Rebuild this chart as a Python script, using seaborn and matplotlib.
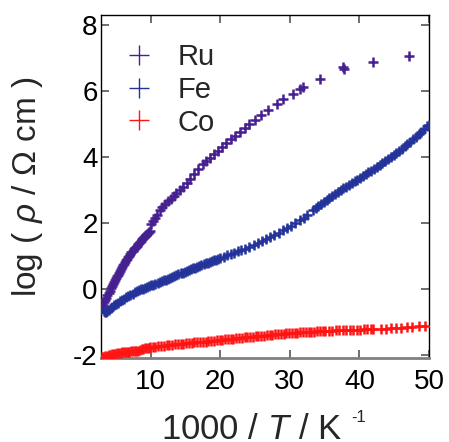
import matplotlib
matplotlib.use("Agg")
import matplotlib.pyplot as plt
from matplotlib.lines import Line2D
import seaborn as sns
import pandas as pd

# ---------------- data ----------------
ru_x = [2.90, 3.05, 3.20, 3.35, 3.50, 3.65, 3.80, 3.95, 4.10, 4.25, 4.40, 4.55, 4.70,
        4.85, 5.00, 5.15, 5.30, 5.45, 5.60, 5.75, 5.90, 6.05, 6.20, 6.35, 6.50, 6.65,
        6.80, 6.95, 7.10, 7.25, 7.40, 7.55, 7.70, 7.85, 8.00, 8.15, 8.30, 8.45, 8.60,
        8.75, 8.90, 9.05, 9.20, 9.35, 9.50, 9.65, 9.80, 9.95,
        10.1, 10.3, 10.6, 10.9, 11.3, 11.7, 12.1, 12.5, 12.9, 13.3, 13.7, 14.2, 14.7,
        15.2, 15.7, 16.2, 16.8, 17.5, 18.0, 18.5, 19.1, 19.7, 20.3, 20.9, 21.5, 22.1,
        22.8, 23.5, 24.2, 25.0, 25.9, 26.9, 28.1, 29.0, 30.5, 31.5, 31.9, 34.3, 37.7,
        37.8, 41.9, 47.1]
ru_y = [-0.60, -0.54, -0.48, -0.41, -0.34, -0.27, -0.20, -0.13, -0.06, 0.01, 0.08, 0.15,
        0.21, 0.26, 0.32, 0.38, 0.43, 0.49, 0.54, 0.60, 0.66, 0.71, 0.76, 0.81, 0.86,
        0.91, 0.95, 1.00, 1.05, 1.10, 1.15, 1.19, 1.23, 1.27, 1.31, 1.35, 1.39, 1.43,
        1.46, 1.50, 1.54, 1.57, 1.60, 1.63, 1.67, 1.70, 1.73, 1.76,
        1.97, 2.04, 2.14, 2.24, 2.38, 2.48, 2.56, 2.65, 2.73, 2.82, 2.90, 3.00, 3.10,
        3.22, 3.33, 3.47, 3.62, 3.79, 3.88, 3.97, 4.08, 4.19, 4.31, 4.42, 4.53, 4.64,
        4.75, 4.87, 4.99, 5.12, 5.26, 5.42, 5.60, 5.75, 5.90, 6.05, 6.11, 6.36, 6.71,
        6.66, 6.86, 7.07]

fe_x = [3.3, 3.45, 3.6, 3.8, 4.0, 4.25, 4.5, 4.75, 5.0, 5.3, 5.6, 5.9, 6.2, 6.5, 6.8,
        7.1, 7.4, 7.7, 8.0, 8.3, 8.6, 8.9, 9.2, 9.5, 9.8, 10.1, 10.4, 10.7, 11.0, 11.3,
        11.6, 11.9, 12.2, 12.5, 12.8, 13.1, 13.4, 13.7, 14.0, 14.3, 14.6, 14.9, 15.2,
        15.5, 15.8, 16.1, 16.4, 16.7, 17.0, 17.3, 17.6, 17.9, 18.2, 18.5, 18.8, 19.1,
        19.4, 19.7, 20.0,
        20.5, 21.0, 21.5, 22.0, 22.5, 23.0, 23.6, 24.2, 24.8, 25.4, 26.0, 26.6, 27.2,
        27.8, 28.4, 29.0, 29.6, 30.2, 30.8, 31.4, 32.0, 32.5,
        33.3, 33.7, 34.1, 34.5, 34.9, 35.3, 35.7, 36.1, 36.5, 36.9, 37.3, 37.7, 38.1,
        38.5, 38.9, 39.3, 39.7, 40.1, 40.5, 40.9, 41.3, 41.7, 42.1, 42.5, 42.9, 43.3,
        43.7, 44.1, 44.5, 44.9, 45.3, 45.7, 46.1, 46.5, 46.9, 47.3, 47.7, 48.1, 48.5,
        48.9, 49.3, 49.7, 50.0]
fe_y = [-0.66, -0.70, -0.70, -0.67, -0.63, -0.58, -0.54, -0.50, -0.46, -0.42, -0.38, -0.34,
        -0.30, -0.26, -0.22, -0.18, -0.15, -0.11, -0.08, -0.05, -0.02, 0.00, 0.03, 0.05,
        0.08, 0.10, 0.12, 0.15, 0.18, 0.21, 0.23, 0.26, 0.28, 0.31, 0.33, 0.36, 0.39,
        0.41, 0.44, 0.47, 0.49, 0.52, 0.54, 0.57, 0.59, 0.62, 0.64, 0.67, 0.70, 0.72,
        0.74, 0.77, 0.79, 0.81, 0.84, 0.86, 0.88, 0.91, 0.93,
        0.97, 1.01, 1.05, 1.09, 1.13, 1.17, 1.22, 1.27, 1.32, 1.38, 1.44, 1.50, 1.56,
        1.63, 1.70, 1.77, 1.84, 1.91, 1.99, 2.07, 2.15, 2.23,
        2.38, 2.44, 2.50, 2.56, 2.62, 2.68, 2.74, 2.80, 2.86, 2.92, 2.98, 3.04, 3.09,
        3.15, 3.20, 3.26, 3.31, 3.36, 3.42, 3.47, 3.53, 3.58, 3.64, 3.70, 3.75, 3.81,
        3.86, 3.92, 3.99, 4.05, 4.11, 4.18, 4.25, 4.32, 4.39, 4.46, 4.53, 4.61, 4.68,
        4.76, 4.84, 4.92, 4.97]

co_x = [2.95, 3.2, 3.45, 3.7, 3.95, 4.2, 4.45, 4.7, 4.95, 5.2, 5.45, 5.7, 5.95, 6.2,
        6.45, 6.7, 6.95, 7.2, 7.45, 7.7, 7.95, 8.2, 8.45, 8.7, 8.95, 9.2, 9.45, 9.7, 9.95,
        10.3, 10.7, 11.1, 11.5, 11.9, 12.3, 12.7, 13.1, 13.5, 13.9, 14.3, 14.7, 15.1,
        15.5, 15.9, 16.3, 16.7, 17.1, 17.5, 17.9, 18.3, 18.7, 19.1, 19.5, 19.9, 20.3,
        20.7, 21.1, 21.5, 21.9, 22.3, 22.7, 23.1, 23.5, 23.9, 24.3, 24.7, 25.1, 25.5,
        25.9, 26.3, 26.7, 27.1, 27.5, 27.9, 28.3, 28.7, 29.1, 29.5, 29.9, 30.3, 30.7,
        31.1, 31.5, 31.9, 32.3, 32.7, 33.1, 33.5, 33.9, 34.3, 34.7, 35.1,
        35.6, 36.1, 36.6, 37.1, 37.6, 38.1, 38.6, 39.1, 39.6, 40.1, 40.6, 41.1, 41.6, 42.0,
        43.1, 43.8, 44.6, 45.3, 46.0, 46.8, 47.6, 48.5, 49.4]
co_y = [-2.07, -2.06, -2.04, -2.03, -2.02, -2.01, -1.99, -1.98, -1.97, -1.96, -1.95,
        -1.94, -1.93, -1.93, -1.92, -1.91, -1.91, -1.90, -1.89, -1.89, -1.88, -1.88,
        -1.87, -1.84, -1.82, -1.81, -1.80, -1.79, -1.78,
        -1.77, -1.76, -1.75, -1.74, -1.73, -1.72, -1.71, -1.70, -1.69, -1.68, -1.67,
        -1.67, -1.66, -1.65, -1.64, -1.63, -1.62, -1.61, -1.60, -1.60, -1.59, -1.58,
        -1.57, -1.56, -1.55, -1.54, -1.53, -1.53, -1.52, -1.51, -1.50, -1.49, -1.48,
        -1.47, -1.47, -1.46, -1.45, -1.44, -1.43, -1.42, -1.42, -1.41, -1.40, -1.39,
        -1.38, -1.38, -1.37, -1.36, -1.35, -1.34, -1.34, -1.33, -1.33, -1.32, -1.32,
        -1.31, -1.31, -1.30, -1.30, -1.29, -1.29, -1.28, -1.28,
        -1.27, -1.27, -1.26, -1.26, -1.25, -1.25, -1.24, -1.24, -1.24, -1.24, -1.23,
        -1.23, -1.23, -1.23,
        -1.22, -1.21, -1.20, -1.19, -1.18, -1.17, -1.16, -1.14, -1.12]

series_names = ["Ru", "Fe", "Co"]
series_colors = {"Ru": "#46208f", "Fe": "#23339a", "Co": "#ff1414"}

x_ticks = [10, 20, 30, 40, 50]
y_ticks = [-2, 0, 2, 4, 6, 8]

df = pd.concat([
    pd.DataFrame({"x": ru_x, "y": ru_y, "s": "Ru"}),
    pd.DataFrame({"x": fe_x, "y": fe_y, "s": "Fe"}),
    pd.DataFrame({"x": co_x, "y": co_y, "s": "Co"}),
], ignore_index=True)

# ---------------- style ----------------
sns.set_theme(style="ticks")
plt.rcParams["font.family"] = ["Liberation Sans", "DejaVu Sans"]
plt.rcParams["mathtext.fontset"] = "custom"
plt.rcParams["mathtext.rm"] = "Liberation Sans"
plt.rcParams["mathtext.it"] = "Liberation Sans:italic"
plt.rcParams["axes.unicode_minus"] = False

fig = plt.figure(figsize=(4.49, 4.42), dpi=100)
ax = fig.add_axes([101 / 449, 1 - 358 / 442, 328 / 449, 343 / 442])

for name in series_names:
    sub = df[df["s"] == name]
    sns.scatterplot(data=sub, x="x", y="y", marker="+", s=48, linewidth=1.8,
                    color=series_colors[name], ax=ax, legend=False, zorder=3)

ax.set_xlim(2.87, 50)
ax.set_ylim(-2.1, 8.3)
ax.set_xticks(x_ticks)
ax.set_yticks(y_ticks)
ax.tick_params(direction="in", length=6, width=1.2, color="#555555",
               top=True, right=True, labelsize=20, labelcolor="black")
ax.tick_params(axis="x", pad=8)
ax.tick_params(axis="y", pad=2.5)

for side in ["left", "top", "right"]:
    ax.spines[side].set_color("black")
    ax.spines[side].set_linewidth(1.0)
ax.spines["bottom"].set_color("#808080")
ax.spines["bottom"].set_linewidth(2.0)

ax.set_xlabel("1000 / $\\mathit{T}$ / K", fontsize=25)
ax.xaxis.set_label_coords(0.459, -0.160)
ax.text(0.762, -0.188, "-1", fontsize=12, transform=ax.transAxes,
        ha="left", va="baseline", clip_on=False)
ax.set_ylabel("log ( $\\mathit{ρ}$ / Ω cm )", fontsize=24)
ax.yaxis.set_label_coords(-0.172, 0.5)

handles = [Line2D([], [], linestyle="none", marker="+", markersize=14,
                  markeredgewidth=1.0, color=series_colors[n]) for n in series_names]
ax.legend(handles, series_names, loc="upper left", bbox_to_anchor=(0.086, 0.919),
          frameon=False, fontsize=21, borderaxespad=0, borderpad=0,
          handletextpad=0.95, labelspacing=0.17, handlelength=0.7)

fig.savefig("out.png", dpi=100)
